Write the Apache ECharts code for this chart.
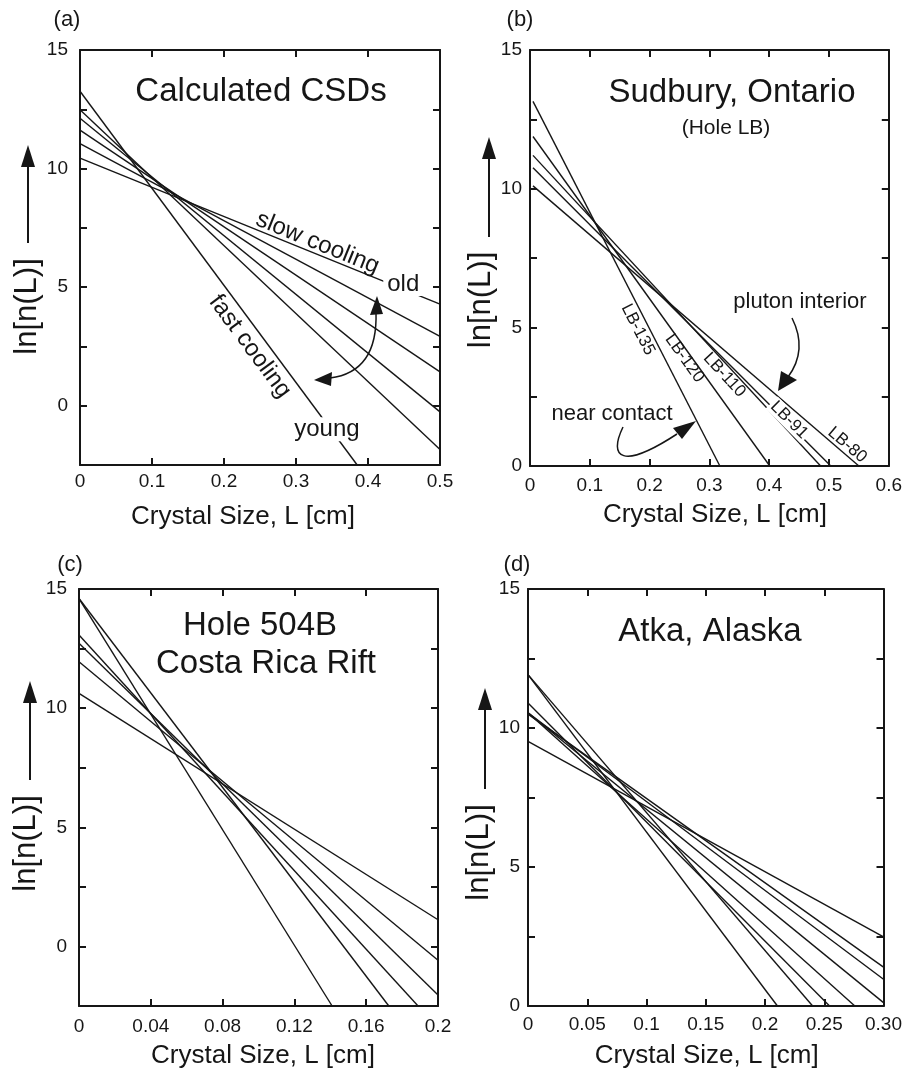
<!DOCTYPE html>
<html>
<head>
<meta charset="utf-8">
<script src="https://cdn.jsdelivr.net/npm/echarts@6/dist/echarts.min.js"></script>
<style>html,body{margin:0;padding:0;background:#fff}#c{width:905px;height:1075px}</style>
</head>
<body>
<div id="c"></div>
<script>
// ---------------- data ----------------
// (a) Calculated CSDs : straight CSD lines, start [x,y] -> end [x,y]
const aStartX = [0, 0, 0, 0, 0, 0];
const aStartY = [13.26, 12.48, 12.12, 11.62, 11.05, 10.44];
const aEndX   = [0.385, 0.5, 0.5, 0.5, 0.5, 0.5];
const aEndY   = [-2.5, -1.85, -0.26, 1.43, 2.92, 4.28];

// (b) Sudbury, Ontario (Hole LB)
const bNames  = ['LB-135', 'LB-120', 'LB-110', 'LB-91', 'LB-80'];
const bStartX = [0.005, 0.005, 0.005, 0.005, 0.005];
const bStartY = [13.15, 11.88, 11.2, 10.75, 10.1];
const bEndX   = [0.3175, 0.401, 0.486, 0.503, 0.55];
const bEndY   = [0, 0, 0, 0, 0];

// (c) Hole 504B Costa Rica Rift
const cStartX = [0, 0, 0, 0, 0, 0];
const cStartY = [14.6, 14.6, 13.07, 12.72, 11.95, 10.62];
const cEndX   = [0.141, 0.1726, 0.1889, 0.2, 0.2, 0.2];
const cEndY   = [-2.5, -2.5, -2.5, -2.04, -0.58, 1.12];

// (d) Atka, Alaska
const dStartX = [0, 0, 0, 0, 0, 0, 0, 0];
const dStartY = [11.92, 11.92, 10.9, 10.55, 10.55, 10.55, 10.5, 9.52];
const dEndX   = [0.2105, 0.2402, 0.2545, 0.2758, 0.3, 0.3, 0.3, 0.3];
const dEndY   = [0, 0, 0, 0, 0.12, 0.96, 1.4, 2.49];

// tick labels
const aXLabels = ['0', '0.1', '0.2', '0.3', '0.4', '0.5'];
const bXLabels = ['0', '0.1', '0.2', '0.3', '0.4', '0.5', '0.6'];
const cXLabels = ['0', '0.04', '0.08', '0.12', '0.16', '0.2'];
const dXLabels = ['0', '0.05', '0.1', '0.15', '0.2', '0.25', '0.30'];
const yLabelValues = [0, 5, 10, 15];

// ---------------- layout / style ----------------
const FONT = '"Liberation Sans", Arial, Helvetica, sans-serif';
const INK = '#161616';

const panels = [
  { grid: {left: 80, top: 50, width: 360, height: 415}, x: [0, 0.5, 0.1], y: [-2.5, 15, 2.5],
    xLabels: aXLabels, xMargin: 7, yMargin: 12, xNameGap: 39, xNamePad: [0, 34, 0, 0],
    yNameGap: 37, yNameOff: 49,
    sx: aStartX, sy: aStartY, ex: aEndX, ey: aEndY },
  { grid: {left: 530, top: 50, width: 361, height: 416}, x: [0, 0.6, 0.1], y: [0, 15, 2.5],
    xLabels: bXLabels, xMargin: 10, yMargin: 8, xNameGap: 36, xNamePad: [0, 0, 0, 11],
    yNameGap: 27, yNameOff: 42,
    sx: bStartX, sy: bStartY, ex: bEndX, ey: bEndY },
  { grid: {left: 79, top: 589, width: 359, height: 417}, x: [0, 0.2, 0.04], y: [-2.5, 15, 2.5],
    xLabels: cXLabels, xMargin: 11, yMargin: 12, xNameGap: 37, xNamePad: [0, 0, 0, 9],
    yNameGap: 36, yNameOff: 46,
    sx: cStartX, sy: cStartY, ex: cEndX, ey: cEndY },
  { grid: {left: 528, top: 589, width: 360, height: 417}, x: [0, 0.3, 0.05], y: [0, 15, 2.5],
    xLabels: dXLabels, xMargin: 9, yMargin: 8, xNameGap: 37, xNamePad: [0, 0, 0, 2],
    yNameGap: 29, yNameOff: 55,
    sx: dStartX, sy: dStartY, ex: dEndX, ey: dEndY }
];

const chart = echarts.init(document.getElementById('c'), null, {renderer: 'canvas'});

const grids = [], xAxes = [], yAxes = [], series = [];
panels.forEach((P, p) => {
  grids.push(P.grid);
  const line = {show: true, onZero: false, lineStyle: {color: INK, width: 2}};
  const tick = {show: true, inside: true, length: 7, lineStyle: {color: INK, width: 2}};
  const xc = {gridIndex: p, type: 'value', min: P.x[0], max: P.x[1], interval: P.x[2],
              axisLine: line, axisTick: tick, splitLine: {show: false}};
  const yc = {gridIndex: p, type: 'value', min: P.y[0], max: P.y[1], interval: P.y[2],
              axisLine: line, axisTick: tick, splitLine: {show: false}};
  xAxes.push(Object.assign({}, xc, {
    position: 'bottom',
    axisLabel: {show: true, margin: P.xMargin, fontSize: 19, fontFamily: FONT, color: INK,
      formatter: v => P.xLabels[Math.round((v - P.x[0]) / P.x[2])]},
    name: 'Crystal Size, L [cm]', nameLocation: 'middle', nameGap: P.xNameGap,
    nameTextStyle: {fontSize: 26, fontFamily: FONT, color: INK, padding: P.xNamePad}
  }));
  xAxes.push(Object.assign({}, xc, {position: 'top', axisLabel: {show: false}}));
  yAxes.push(Object.assign({}, yc, {
    position: 'left',
    axisLabel: {show: true, margin: P.yMargin, fontSize: 19, fontFamily: FONT, color: INK,
      padding: [7, 0, 0, 0],
      formatter: v => (yLabelValues.indexOf(Math.round(v * 100) / 100) >= 0 ? String(v) : '')},
    name: 'ln[n(L)]', nameLocation: 'middle', nameRotate: 90, nameGap: P.yNameGap,
    nameTextStyle: {fontSize: 31, fontFamily: FONT, color: INK, padding: [0, 2 * P.yNameOff, 0, 0]}
  }));
  yAxes.push(Object.assign({}, yc, {position: 'right', axisLabel: {show: false}}));
  P.sy.forEach((_, i) => {
    series.push({
      type: 'line', name: p === 1 ? bNames[i] : 'CSD ' + (i + 1),
      xAxisIndex: 2 * p, yAxisIndex: 2 * p,
      data: [[P.sx[i], P.sy[i]], [P.ex[i], P.ey[i]]],
      symbol: 'none', silent: true, animation: false, clip: true,
      lineStyle: {color: INK, width: 1.4}
    });
  });
});

chart.setOption({
  animation: false,
  backgroundColor: '#ffffff',
  grid: grids, xAxis: xAxes, yAxis: yAxes, series: series
});

// ---------------- annotations ----------------
const toPx = (p, x, y) => chart.convertToPixel({xAxisIndex: 2 * p, yAxisIndex: 2 * p}, [x, y]);
const lineAngle = (p, i) => {
  const P = panels[p];
  const a = toPx(p, P.sx[i], P.sy[i]), b = toPx(p, P.ex[i], P.ey[i]);
  return Math.atan2(b[1] - a[1], b[0] - a[0]);
};
function txt(x, y, text, size, o) {
  o = o || {};
  const style = {text: text, fontSize: size, fontFamily: FONT, fill: INK,
                 align: 'center', verticalAlign: 'middle'};
  if (o.bg) { style.backgroundColor = '#ffffff'; style.padding = o.pad || [0, 3]; }
  return {type: 'text', x: x, y: y, rotation: o.rot || 0, z: 100, silent: true, style: style};
}
function dtxt(p, dx, dy, text, size, o) {
  const q = toPx(p, dx, dy);
  return txt(q[0], q[1], text, size, o);
}
function yArrow(x, tail, tip) {
  return [
    {type: 'line', z: 100, silent: true, shape: {x1: x, y1: tail, x2: x, y2: tip + 18},
     style: {stroke: INK, lineWidth: 2}},
    {type: 'polygon', z: 100, silent: true,
     shape: {points: [[x, tip], [x - 7, tip + 22], [x + 7, tip + 22]]}, style: {fill: INK}}
  ];
}
const stroke = {stroke: INK, lineWidth: 1.5, fill: null};

const els = [];
// panel letters
els.push(txt(67, 20, '(a)', 22), txt(520, 20, '(b)', 22), txt(70, 565, '(c)', 22), txt(517, 565, '(d)', 22));
// y-title arrows
els.push(...yArrow(28, 243, 145), ...yArrow(489, 237, 137), ...yArrow(30, 780, 681), ...yArrow(485, 789, 688));

// (a)
els.push(txt(261, 92, 'Calculated CSDs', 33));
els.push(dtxt(0, 0.33, 6.86, 'slow cooling', 24, {rot: -lineAngle(0, 5)}));
els.push(dtxt(0, 0.449, 5.13, 'old', 24, {bg: true, pad: [0, 4]}));
els.push(dtxt(0, 0.236, 2.5, 'fast cooling', 24, {rot: -lineAngle(0, 0)}));
els.push(dtxt(0, 0.343, -0.99, 'young', 24, {bg: true, pad: [0, 3]}));
els.push({type: 'bezierCurve', z: 100, silent: true,
  shape: {x1: 376, y1: 312, x2: 330, y2: 378, cpx1: 378, cpy1: 372}, style: stroke});
els.push({type: 'polygon', z: 100, silent: true, shape: {points: [[377, 296], [370, 315], [383, 314]]}, style: {fill: INK}});
els.push({type: 'polygon', z: 100, silent: true, shape: {points: [[314, 380], [332, 372], [331, 386]]}, style: {fill: INK}});

// (b)
els.push(txt(732, 93, 'Sudbury, Ontario', 33));
els.push(txt(726, 128, '(Hole LB)', 21));
const bLabelPos = [[0.1805, 4.92], [0.2583, 3.88], [0.325, 3.28], [0.4333, 1.66], [0.5305, 0.76]];
bNames.forEach((n, i) => {
  els.push(dtxt(1, bLabelPos[i][0], bLabelPos[i][1], n, 17,
    {rot: -lineAngle(1, i), bg: i === 3, pad: [0, 2]}));
});
els.push(txt(800, 302, 'pluton interior', 22));
els.push({type: 'bezierCurve', z: 100, silent: true,
  shape: {x1: 792, y1: 318, x2: 788, y2: 377, cpx1: 808, cpy1: 350}, style: stroke});
els.push({type: 'polygon', z: 100, silent: true, shape: {points: [[778, 391], [781, 371], [797, 380]]}, style: {fill: INK}});
els.push(txt(612, 414, 'near contact', 22));
els.push({type: 'bezierCurve', z: 100, silent: true,
  shape: {x1: 623, y1: 427, x2: 677, y2: 434, cpx1: 608, cpy1: 458, cpx2: 622, cpy2: 470}, style: stroke});
els.push({type: 'polygon', z: 100, silent: true, shape: {points: [[696, 421], [673, 428], [682, 439]]}, style: {fill: INK}});

// (c)
els.push(txt(260, 626, 'Hole 504B', 33));
els.push(txt(266, 664, 'Costa Rica Rift', 33));

// (d)
els.push(txt(710, 632, 'Atka, Alaska', 33));

chart.setOption({graphic: {elements: els}});
</script>
</body>
</html>
